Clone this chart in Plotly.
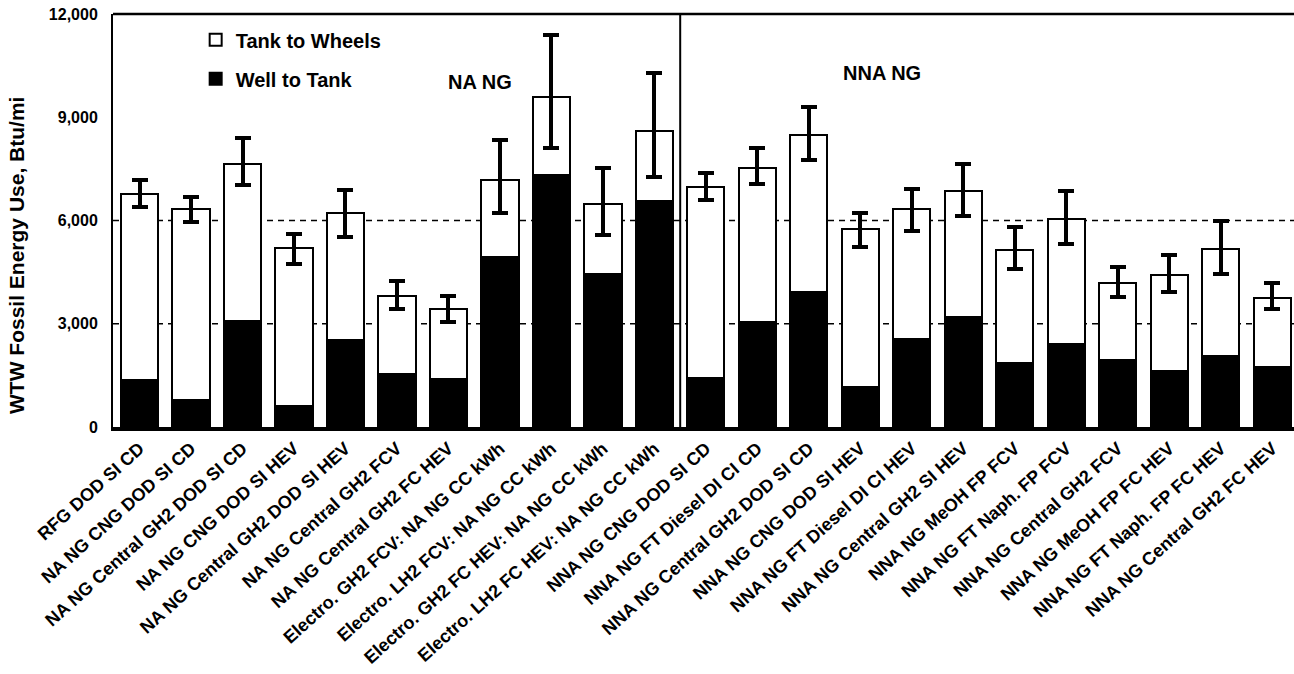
import plotly.graph_objects as go

categories = [
    "RFG DOD SI CD", "NA NG CNG DOD SI CD", "NA NG Central GH2 DOD SI CD",
    "NA NG CNG DOD SI HEV", "NA NG Central GH2 DOD SI HEV", "NA NG Central GH2 FCV",
    "NA NG Central GH2 FC HEV", "Electro. GH2 FCV: NA NG CC kWh",
    "Electro. LH2 FCV: NA NG CC kWh", "Electro. GH2 FC HEV: NA NG CC kWh",
    "Electro. LH2 FC HEV: NA NG CC kWh", "NNA NG CNG DOD SI CD",
    "NNA NG FT Diesel DI CI CD", "NNA NG Central GH2 DOD SI CD",
    "NNA NG CNG DOD SI HEV", "NNA NG FT Diesel DI CI HEV",
    "NNA NG Central GH2 SI HEV", "NNA NG MeOH FP FCV", "NNA NG FT Naph. FP FCV",
    "NNA NG Central GH2 FCV", "NNA NG MeOH FP FC HEV", "NNA NG FT Naph. FP FC HEV",
    "NNA NG Central GH2 FC HEV",
]
well_to_tank = [1370, 780, 3090, 610, 2530, 1530, 1390, 4930, 7320, 4450, 6580,
                1410, 3040, 3930, 1150, 2550, 3190, 1850, 2410, 1950, 1630, 2070, 1750]
tank_to_wheels = [5400, 5550, 4550, 4600, 3680, 2290, 2030, 2250, 2260, 2020, 2030,
                  5550, 4490, 4550, 4610, 3780, 3670, 3290, 3630, 2230, 2790, 3100, 1990]
err_plus = [410, 350, 750, 400, 680, 410, 390, 1160, 1810, 1050, 1670,
            430, 590, 820, 450, 580, 770, 680, 810, 480, 580, 820, 450]
err_minus = [370, 360, 610, 480, 680, 400, 360, 950, 1480, 890, 1340,
             370, 480, 710, 520, 630, 730, 540, 710, 390, 490, 730, 320]
y_ticks = [0, 3000, 6000, 9000, 12000]
y_tick_text = ["0", "3,000", "6,000", "9,000", "12,000"]
group_labels = ["NA NG", "NNA NG"]

FONT = "Liberation Sans, Arial, sans-serif"
x = list(range(len(categories)))

fig = go.Figure()
fig.add_trace(go.Bar(
    x=x, y=well_to_tank, name="<b>Well to Tank</b>", width=0.72,
    marker=dict(color="black", line=dict(color="black", width=2)),
    legendgroup="wtt", legendrank=2,
))
fig.add_trace(go.Bar(
    x=x, y=tank_to_wheels, name="<b>Tank to Wheels</b>", width=0.72,
    marker=dict(color="white", line=dict(color="black", width=2)),
    error_y=dict(type="data", symmetric=False, array=err_plus, arrayminus=err_minus,
                 color="black", thickness=4, width=8),
    legendgroup="ttw", legendrank=1,
))

n_na = 11
shapes = []
for v in [3000, 6000]:
    shapes.append(dict(type="line", xref="paper", yref="y", x0=0, x1=1, y0=v, y1=v,
                       line=dict(color="black", width=1.5, dash="6px,5px"), layer="below"))
shapes.append(dict(type="line", xref="x", yref="y", x0=n_na - 0.5, x1=n_na - 0.5,
                   y0=0, y1=12000, line=dict(color="black", width=2)))
shapes.append(dict(type="line", xref="paper", yref="paper", x0=0, x1=1, y0=1, y1=1,
                   line=dict(color="black", width=2.5)))

annotations = [
    dict(text="<b>%s</b>" % group_labels[0], x=6.61, y=10020, xref="x", yref="y",
         showarrow=False, font=dict(family=FONT, size=20, color="black")),
    dict(text="<b>%s</b>" % group_labels[1], x=14.42, y=10300, xref="x", yref="y",
         showarrow=False, font=dict(family=FONT, size=20, color="black")),
    dict(text="<b>WTW Fossil Energy Use, Btu/mi</b>", x=-0.0813, y=0.4165,
         xref="paper", yref="paper", textangle=-90, showarrow=False,
         xanchor="center", yanchor="middle",
         font=dict(family=FONT, size=21, color="black")),
]

fig.update_layout(
    barmode="stack",
    width=1294, height=674,
    margin=dict(l=113, r=0, t=14, b=247, autoexpand=False),
    plot_bgcolor="white", paper_bgcolor="white",
    shapes=shapes, annotations=annotations,
    showlegend=True,
    legend=dict(x=0.070, y=0.985, xanchor="left", yanchor="top",
                traceorder="grouped", tracegroupgap=10,
                font=dict(family=FONT, size=20, color="black"),
                bgcolor="rgba(0,0,0,0)", itemwidth=30),
    font=dict(family=FONT, color="black"),
)
fig.update_xaxes(
    range=[-0.515, 22.42], tickmode="array", tickvals=x,
    ticktext=["<b>%s</b>" % c for c in categories], tickangle=-42,
    tickfont=dict(family=FONT, size=18, color="black"),
    showline=True, linecolor="black", linewidth=4, ticks="", showgrid=False,
    zeroline=False, automargin=False,
)
fig.update_yaxes(
    range=[0, 12000], tickmode="array", tickvals=y_ticks,
    ticktext=["<b>%s</b>" % t for t in y_tick_text],
    tickfont=dict(family=FONT, size=16, color="black"),
    showline=True, linecolor="black", linewidth=2, mirror=True, ticks="",
    showgrid=False, zeroline=False, ticklabelstandoff=10, automargin=False,
)
fig.write_html("out.html", config={"displayModeBar": False},
               post_script="document.body.style.margin='0';document.body.style.overflow='hidden';")
